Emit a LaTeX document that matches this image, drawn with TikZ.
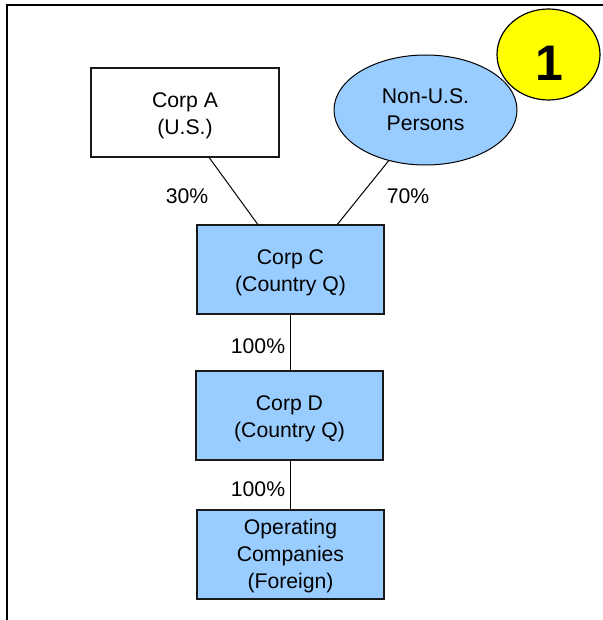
\documentclass[tikz,border=0pt]{standalone}
\usepackage{fontspec}
\setmainfont{Liberation Sans}
\usetikzlibrary{calc,shapes.geometric}
\definecolor{boxblue}{HTML}{99CCFF}
\definecolor{badge}{HTML}{FFFF00}
\newcommand\boxtext[2][25pt]{\begin{tabular}{@{}c@{}}\rule{0pt}{#1}#2\end{tabular}}
\begin{document}
\begin{tikzpicture}[x=1pt,y=-1pt,
  txt/.style={font=\fontsize{21.2}{27}\selectfont, align=center},
  entity/.style={txt, draw=black!90, line width=1.3pt, minimum width=187pt, minimum height=89pt, inner sep=0pt},
  bluebox/.style={entity, fill=boxblue},
  link/.style={line width=1pt, black},
  pct/.style={txt, inner sep=0pt}]
\useasboundingbox (0,0) rectangle (602,620);
\draw[line width=2.5pt] (7,621) -- (7,5) -- (603,5);
\node[entity, fill=white, minimum width=188pt] (a) at (185,112.5) {\boxtext{Corp A\\(U.S.)}};
\node[ellipse, draw, line width=1pt, fill=boxblue, minimum width=183pt, minimum height=110pt, inner sep=0pt, txt] (n) at (425.5,110) {\boxtext[23pt]{Non-U.S.\\Persons}};
\node[ellipse, draw, line width=1.2pt, fill=badge, minimum width=103pt, minimum height=91pt, inner sep=0pt] (one) at (548.5,54.5) {};
\node[font=\fontsize{50}{50}\selectfont\bfseries, inner sep=0pt] (onetxt) at (549,63.5) {1};
\node[bluebox] (c) at (290.5,269.5) {\boxtext[26pt]{Corp C\\(Country Q)}};
\node[bluebox] (d) at (289.5,415.5) {\boxtext{Corp D\\(Country Q)}};
\node[bluebox] (o) at (290.5,554.5) {\boxtext[23pt]{Operating\\Companies\\(Foreign)}};
\draw[link] ($(a.south west)!0.628!(a.south east)$) -- ($(c.north west)!0.326!(c.north east)$);
\draw[link] (n.234) -- ($(c.north west)!0.749!(c.north east)$);
\draw[link] (c.south -| 290,0) -- (d.north -| 290,0);
\draw[link] (d.south -| 290.5,0) -- (o.north -| 290.5,0);
\node[pct] (p30) at (187,196) {30\%};
\node[pct] (p70) at (408,196) {70\%};
\node[pct] (p100a) at (258,346) {100\%};
\node[pct] (p100b) at (258,489) {100\%};
\end{tikzpicture}
\end{document}
